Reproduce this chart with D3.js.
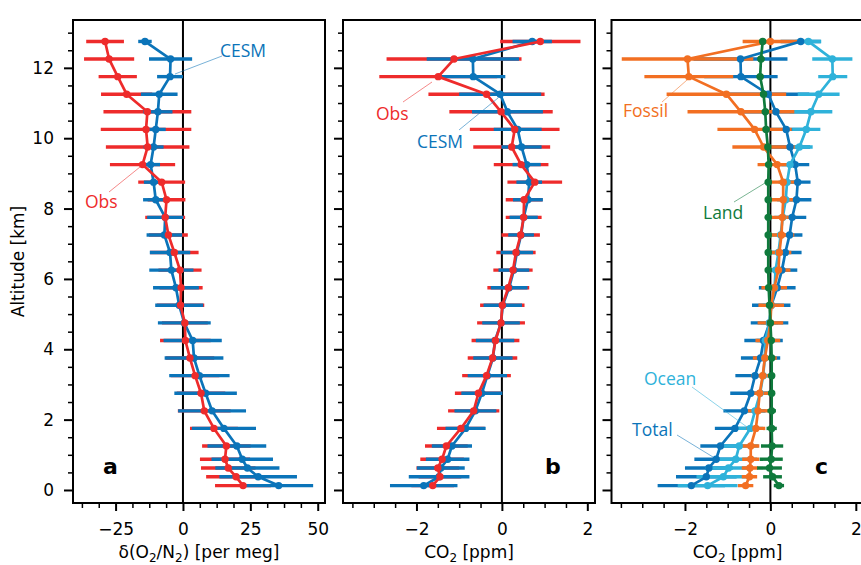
<!DOCTYPE html>
<html>
<head>
<meta charset="utf-8">
<script src="https://cdn.jsdelivr.net/npm/d3@7"></script>
<style>
  body { margin: 0; background: #fff; }
  .axis text { font-family: "DejaVu Sans"; font-size: 17px; fill: #000; }
  .axis path.domain { display: none; }
  .note { font-family: "Open Sans"; font-size: 17.5px; }
  .letter { font-family: "DejaVu Sans"; font-weight: bold; font-size: 22px; }
  .label { font-family: "DejaVu Sans"; font-size: 17px; }
</style>
</head>
<body>
<svg id="fig" width="861" height="565"></svg>
<script>
//** altitude levels, top to bottom [km]
const altitude = [12.75, 12.25, 11.75, 11.25, 10.75, 10.25, 9.75, 9.25, 8.75, 8.25, 7.75, 7.25, 6.75,
  6.25, 5.75, 5.25, 4.75, 4.25, 3.75, 3.25, 2.75, 2.25, 1.75, 1.25, 0.875, 0.625, 0.375, 0.125];

//** panel a : d(O2/N2) [per meg]
const obsO2 = [-28.9, -27.4, -24.2, -20.9, -13.2, -13.7, -13.1, -15.0, -7.9, -6.1, -6.6, -5.4, -3.2,
  -1.1, -0.7, -0.9, 0.7, 0.9, 2.6, 4.5, 6.7, 7.9, 11.5, 16.1, 15.6, 16.8, 19.7, 22.3];
const obsO2Err = [7.0, 9.3, 7.1, 9.5, 16.3, 16.8, 15.5, 12.1, 8.7, 7.0, 7.4, 7.2, 9.0,
  8.0, 8.0, 8.8, 8.5, 9.4, 9.0, 9.0, 9.0, 9.8, 8.9, 9.0, 9.3, 10.1, 11.1, 10.4];
const cesmO2 = [-14.1, -4.6, -4.8, -8.8, -9.3, -10.1, -10.9, -12.0, -10.9, -10.1, -6.6, -6.9, -4.8,
  -4.3, -2.6, -1.4, 0.5, 3.6, 4.1, 6.1, 8.4, 10.8, 15.2, 20.0, 22.0, 23.9, 27.9, 35.5];
const cesmO2Err = [2.5, 8.0, 4.8, 6.8, 5.4, 3.7, 3.7, 3.5, 3.6, 4.7, 6.7, 6.6, 7.5,
  8.2, 8.5, 8.9, 9.8, 10.8, 10.9, 11.2, 11.6, 12.6, 11.9, 10.9, 11.4, 11.9, 14.4, 12.8];

//** panel b : CO2 [ppm]
const obsCO2 = [0.90, -1.12, -1.49, -0.36, -0.02, 0.30, 0.23, 0.45, 0.77, 0.52, 0.51, 0.44, 0.33,
  0.26, 0.15, 0.01, -0.02, -0.15, -0.22, -0.36, -0.55, -0.66, -0.96, -1.30, -1.40, -1.50, -1.45, -1.62];
const obsCO2Err = [0.94, 1.58, 1.38, 1.36, 1.21, 1.05, 0.90, 0.64, 0.64, 0.43, 0.42, 0.45, 0.46,
  0.46, 0.49, 0.52, 0.56, 0.56, 0.58, 0.57, 0.55, 0.60, 0.56, 0.50, 0.51, 0.50, 0.50, 0.50];
const cesmCO2 = [0.71, -0.68, -0.67, -0.04, 0.13, 0.37, 0.46, 0.58, 0.64, 0.61, 0.51, 0.45, 0.35,
  0.28, 0.17, 0.02, -0.02, -0.16, -0.21, -0.34, -0.47, -0.62, -0.85, -1.17, -1.27, -1.43, -1.47, -1.83];
const cesmCO2Err = [0.46, 1.08, 0.75, 0.96, 0.83, 0.56, 0.47, 0.33, 0.30, 0.35, 0.33, 0.30, 0.38,
  0.36, 0.43, 0.45, 0.44, 0.45, 0.46, 0.46, 0.48, 0.49, 0.47, 0.47, 0.51, 0.56, 0.71, 0.79];

//** panel c : CO2 components [ppm]
const totalCO2 = [0.71, -0.70, -0.69, -0.05, 0.13, 0.37, 0.46, 0.58, 0.64, 0.61, 0.51, 0.45, 0.35,
  0.27, 0.16, 0.02, -0.02, -0.16, -0.23, -0.36, -0.46, -0.61, -0.83, -1.17, -1.27, -1.44, -1.50, -1.85];
const totalCO2Err = [0.47, 1.10, 0.86, 0.96, 0.83, 0.56, 0.47, 0.33, 0.30, 0.35, 0.33, 0.30, 0.38,
  0.36, 0.43, 0.45, 0.44, 0.45, 0.46, 0.46, 0.48, 0.49, 0.47, 0.47, 0.51, 0.56, 0.71, 0.79];
const fossilCO2 = [0.00, -1.94, -1.91, -1.03, -0.69, -0.37, -0.16, 0.16, 0.30, 0.30, 0.28, 0.26, 0.21,
  0.19, 0.09, 0.02, 0.00, -0.06, -0.13, -0.18, -0.25, -0.29, -0.34, -0.46, -0.46, -0.48, -0.49, -0.58];
const fossilCO2Err = [0.65, 1.54, 1.04, 1.40, 1.25, 0.87, 0.73, 0.46, 0.30, 0.30, 0.30, 0.30, 0.28,
  0.28, 0.30, 0.30, 0.30, 0.29, 0.28, 0.27, 0.25, 0.24, 0.22, 0.20, 0.20, 0.19, 0.18, 0.18];
const landCO2 = [-0.18, -0.22, -0.24, -0.16, -0.12, -0.10, -0.06, -0.04, -0.05, -0.05, -0.05, -0.05, -0.05,
  -0.05, -0.04, -0.02, 0.00, 0.02, 0.03, 0.03, 0.03, 0.03, 0.03, 0.04, 0.02, -0.02, 0.05, 0.20];
const landCO2Err = [0.08, 0.08, 0.08, 0.08, 0.08, 0.08, 0.08, 0.08, 0.08, 0.08, 0.08, 0.08, 0.08,
  0.08, 0.08, 0.08, 0.08, 0.08, 0.08, 0.08, 0.08, 0.10, 0.12, 0.26, 0.27, 0.29, 0.22, 0.12];
const oceanCO2 = [0.89, 1.45, 1.46, 1.13, 0.95, 0.84, 0.68, 0.46, 0.39, 0.36, 0.29, 0.24, 0.19,
  0.12, 0.10, 0.02, -0.02, -0.12, -0.13, -0.17, -0.24, -0.36, -0.47, -0.73, -0.81, -0.98, -1.10, -1.47];
const oceanCO2Err = [0.30, 0.47, 0.34, 0.49, 0.50, 0.33, 0.31, 0.20, 0.20, 0.20, 0.20, 0.20, 0.20,
  0.20, 0.20, 0.20, 0.20, 0.20, 0.20, 0.20, 0.25, 0.25, 0.30, 0.45, 0.50, 0.55, 0.63, 0.70];

//** ticks
const yMajor = [0, 2, 4, 6, 8, 10, 12];
const yMinor = [0.5, 1, 1.5, 2.5, 3, 3.5, 4.5, 5, 5.5, 6.5, 7, 7.5, 8.5, 9, 9.5, 10.5, 11, 11.5, 12.5, 13];
const xMajorA = [-25, 0, 25, 50];
const xMinorA = [-37.5, -31.25, -18.75, -12.5, -6.25, 6.25, 12.5, 18.75, 31.25, 37.5, 43.75];
const xMajorCO2 = [-2, 0, 2];
const xMinorCO2 = [-3.5, -3, -2.5, -1.5, -1, -0.5, 0.5, 1, 1.5];

const col = {
  obs: '#ee2b2b', cesm: '#0b74b9', fossil: '#f26f22',
  land: '#0f7a3c', ocean: '#2fb2da'
};

const svg = d3.select('#fig');
const yTop = 20, yBottom = 503;
const y = d3.scaleLinear().domain([-0.37, 13.36]).range([yBottom, yTop]);

function makePanel(id, left, right, domain, xMajor, xMinor, xLabel, showY) {
  const x = d3.scaleLinear().domain(domain).range([left, right]);
  const g = svg.append('g');
  g.append('clipPath').attr('id', 'clip' + id)
    .append('rect').attr('x', left).attr('y', yTop).attr('width', right - left).attr('height', yBottom - yTop);
  const plot = g.append('g').attr('clip-path', 'url(#clip' + id + ')');

  //** zero line
  plot.append('line')
    .attr('x1', x(0)).attr('x2', x(0)).attr('y1', yTop).attr('y2', yBottom)
    .attr('stroke', '#000').attr('stroke-width', 2);

  //** y axis
  const yAx = g.append('g').attr('class', 'axis').attr('transform', 'translate(' + left + ',0)');
  yAx.call(d3.axisLeft(y).tickValues(yMajor).tickSize(9).tickPadding(10)
    .tickFormat(showY ? d3.format('d') : ''));
  yAx.selectAll('line').attr('stroke-width', 2);
  const yMin = g.append('g').attr('class', 'axis').attr('transform', 'translate(' + left + ',0)');
  yMin.call(d3.axisLeft(y).tickValues(yMinor).tickSize(5).tickFormat(''));
  yMin.selectAll('line').attr('stroke-width', 1.5);

  //** x axis
  const xAx = g.append('g').attr('class', 'axis').attr('transform', 'translate(0,' + yBottom + ')');
  xAx.call(d3.axisBottom(x).tickValues(xMajor).tickSize(8).tickPadding(12).tickFormat(d3.format('d')));
  xAx.selectAll('line').attr('stroke-width', 2);
  const xMin = g.append('g').attr('class', 'axis').attr('transform', 'translate(0,' + yBottom + ')');
  xMin.call(d3.axisBottom(x).tickValues(xMinor).tickSize(5).tickFormat(''));
  xMin.selectAll('line').attr('stroke-width', 1.5);

  //** x label with subscripts
  const t = g.append('text').attr('class', 'label')
    .attr('x', (left + right) / 2).attr('y', 558).attr('text-anchor', 'middle');
  let shift = 0;
  xLabel.forEach(part => {
    if (part.sub) {
      t.append('tspan').attr('font-size', 12).attr('dy', 4 - shift).text(part.sub);
      shift = 4;
    } else {
      t.append('tspan').attr('dy', -shift).text(part.t);
      shift = 0;
    }
  });

  return { x, g, plot, left, right };
}

function drawBars(p, vals, errs, color) {
  const dd = altitude.map((a, i) => ({ a, v: vals[i], e: errs[i] }));
  p.plot.append('g').selectAll('line').data(dd).join('line')
    .attr('x1', d => p.x(d.v - d.e)).attr('x2', d => p.x(d.v + d.e))
    .attr('y1', d => y(d.a)).attr('y2', d => y(d.a))
    .attr('stroke', color).attr('stroke-width', 3.4);
}

function drawLine(p, vals, color) {
  const dd = altitude.map((a, i) => ({ a, v: vals[i] }));
  const line = d3.line().x(d => p.x(d.v)).y(d => y(d.a));
  const gl = p.plot.append('g');
  gl.append('path').datum(dd).attr('d', line)
    .attr('fill', 'none').attr('stroke', color).attr('stroke-width', 2.7)
    .attr('stroke-linejoin', 'round');
  gl.selectAll('circle').data(dd).join('circle')
    .attr('cx', d => p.x(d.v)).attr('cy', d => y(d.a)).attr('r', 3.7)
    .attr('fill', color);
}

function note(p, txt, color, tx, ty, l) {
  p.g.append('line')
    .attr('x1', l[0]).attr('y1', l[1]).attr('x2', l[2]).attr('y2', l[3])
    .attr('stroke', color).attr('stroke-width', 1).attr('opacity', 0.55);
  p.g.append('text').attr('class', 'note').attr('x', tx).attr('y', ty)
    .attr('fill', color).text(txt);
}

function letter(p, txt, tx) {
  p.g.append('text').attr('class', 'letter').attr('x', tx).attr('y', 474).text(txt);
}

function frame(p) {
  p.g.append('rect')
    .attr('x', p.left).attr('y', yTop).attr('width', p.right - p.left).attr('height', yBottom - yTop)
    .attr('fill', 'none').attr('stroke', '#000').attr('stroke-width', 2);
}

const co2Label = [{ t: 'CO' }, { sub: '2' }, { t: ' [ppm]' }];

//** panel a
const pa = makePanel('a', 73, 325, [-40.8, 52.7], xMajorA, xMinorA,
  [{ t: 'δ(O' }, { sub: '2' }, { t: '/N' }, { sub: '2' }, { t: ') [per meg]' }], true);
drawBars(pa, obsO2, obsO2Err, col.obs);
drawBars(pa, cesmO2, cesmO2Err, col.cesm);
drawLine(pa, cesmO2, col.cesm);
drawLine(pa, obsO2, col.obs);
note(pa, 'CESM', col.cesm, 220, 57, [222, 56, 175, 74]);
note(pa, 'Obs', col.obs, 85, 208, [109, 192, 140, 167]);
letter(pa, 'a', 103);
frame(pa);

//** panel b
const pb = makePanel('b', 343, 595, [-3.72, 2.18], xMajorCO2, xMinorCO2, co2Label, false);
drawBars(pb, obsCO2, obsCO2Err, col.obs);
drawBars(pb, cesmCO2, cesmCO2Err, col.cesm);
drawLine(pb, cesmCO2, col.cesm);
drawLine(pb, obsCO2, col.obs);
note(pb, 'Obs', col.obs, 376, 120, [403, 102, 432, 82]);
note(pb, 'CESM', col.cesm, 417, 148, [459, 130, 498, 98]);
letter(pb, 'b', 545);
frame(pb);

//** panel c
const pc = makePanel('c', 611.5, 863.5, [-3.72, 2.18], xMajorCO2, xMinorCO2, co2Label, false);
drawBars(pc, totalCO2, totalCO2Err, col.cesm);
drawBars(pc, oceanCO2, oceanCO2Err, col.ocean);
drawBars(pc, fossilCO2, fossilCO2Err, col.fossil);
drawBars(pc, landCO2, landCO2Err, col.land);
drawLine(pc, totalCO2, col.cesm);
drawLine(pc, oceanCO2, col.ocean);
drawLine(pc, fossilCO2, col.fossil);
drawLine(pc, landCO2, col.land);
note(pc, 'Fossil', col.fossil, 623, 117, [662, 102, 687, 80]);
note(pc, 'Land', col.land, 703, 219, [734, 202, 765, 183]);
note(pc, 'Ocean', col.ocean, 644, 385, [692, 387, 747, 427]);
note(pc, 'Total', col.cesm, 632, 436, [677, 435, 713, 457]);
letter(pc, 'c', 815);
frame(pc);

//** y label
svg.append('text').attr('class', 'label')
  .attr('transform', 'translate(24,' + ((yTop + yBottom) / 2) + ') rotate(-90)')
  .attr('text-anchor', 'middle').text('Altitude [km]');
</script>
</body>
</html>
